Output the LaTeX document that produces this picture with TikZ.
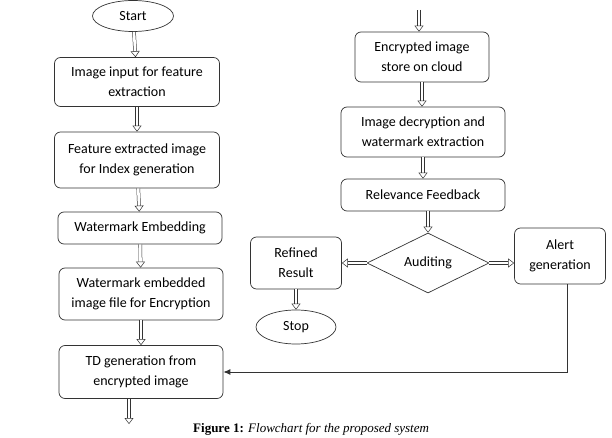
\documentclass[tikz,border=0pt]{standalone}
\usepackage{fontspec}
\setmainfont{Carlito}
\newfontfamily\capfont{Liberation Serif}
\usetikzlibrary{shapes.geometric,arrows.meta}

\tikzset{
  box/.style={draw=black!80, line width=0.7pt, rounded corners=6pt, align=center, inner sep=2pt},
  oval/.style={draw=black!80, line width=0.7pt, ellipse, inner sep=0pt},
  hollow/.style={draw=black!80, line width=0.5pt, double=white, double distance=2.6pt,
    -{Triangle[open, length=6pt, width=9pt]}},
}

\begin{document}
\begin{tikzpicture}[x=1pt, y=-1pt, font=\fontsize{14}{20}\selectfont]
  \useasboundingbox (0,0) rectangle (612,438);
  % left column
  \node[oval, minimum width=81pt, minimum height=31pt] (start) at (133,16) {Start};
  \node[box, minimum width=165pt, minimum height=49pt] (input) at (137,82) {Image input for feature\\extraction};
  \node[box, minimum width=165pt, minimum height=56pt] (index) at (137,160) {Feature extracted image\\for Index generation};
  \node[box, minimum width=164pt, minimum height=32pt] (embed) at (140,228) {Watermark Embedding};
  \node[box, minimum width=164pt, minimum height=52pt] (encfile) at (141,294) {Watermark embedded\\image file for Encryption};
  \node[box, minimum width=164pt, minimum height=53pt] (tdgen) at (141,372) {TD generation from\\encrypted image};
  \coordinate (leftout) at (129,424);
  % right column
  \coordinate (rightin) at (419,10);
  \node[box, minimum width=134pt, minimum height=50pt] (store) at (422,57) {Encrypted image\\store on cloud};
  \node[box, minimum width=164pt, minimum height=50pt] (decrypt) at (423,132) {Image decryption and\\watermark extraction};
  \node[box, minimum width=164pt, minimum height=32pt] (feedback) at (423,195) {Relevance Feedback};
  \node[draw=black!80, line width=0.7pt, diamond, aspect=2, inner sep=0pt, minimum width=122pt, minimum height=60pt] (audit) at (428,263) {Auditing};
  \node[box, minimum width=91pt, minimum height=56pt] (alert) at (560,256) {Alert\\generation};
  \node[box, minimum width=91pt, minimum height=52pt] (refined) at (296,263) {Refined\\Result};
  \node[oval, minimum width=80pt, minimum height=34pt] (stop) at (296,327) {Stop};

  \draw[hollow] (start) -- (input);
  \draw[hollow] (input) -- (index);
  \draw[hollow] (index) -- (embed);
  \draw[hollow] (embed) -- (encfile);
  \draw[hollow] (encfile) -- (tdgen);
  \draw[hollow] (tdgen.south -| leftout) -- (leftout);

  \draw[hollow] (rightin) -- (rightin |- store.north);
  \draw[hollow] (store) -- (store |- decrypt.north);
  \draw[hollow] (decrypt) -- (feedback);
  \draw[hollow] (feedback.south -| audit) -- (audit.north);
  \draw[hollow] (audit.west) -- (refined.east);
  \draw[hollow] (audit.east) -- (alert.west |- audit.east);
  \draw[hollow] (refined) -- (stop);

  \draw[black!80, line width=0.9pt, -{Latex[length=7pt, width=6pt]}] ([xshift=7pt]alert.south) |- (tdgen.east);

  \node[anchor=north west, inner sep=0pt, font=\capfont\fontsize{13}{15}\selectfont] (caption) at (193,423) {\textbf{Figure 1:} \textit{Flowchart for the proposed system}};
\end{tikzpicture}
\end{document}
